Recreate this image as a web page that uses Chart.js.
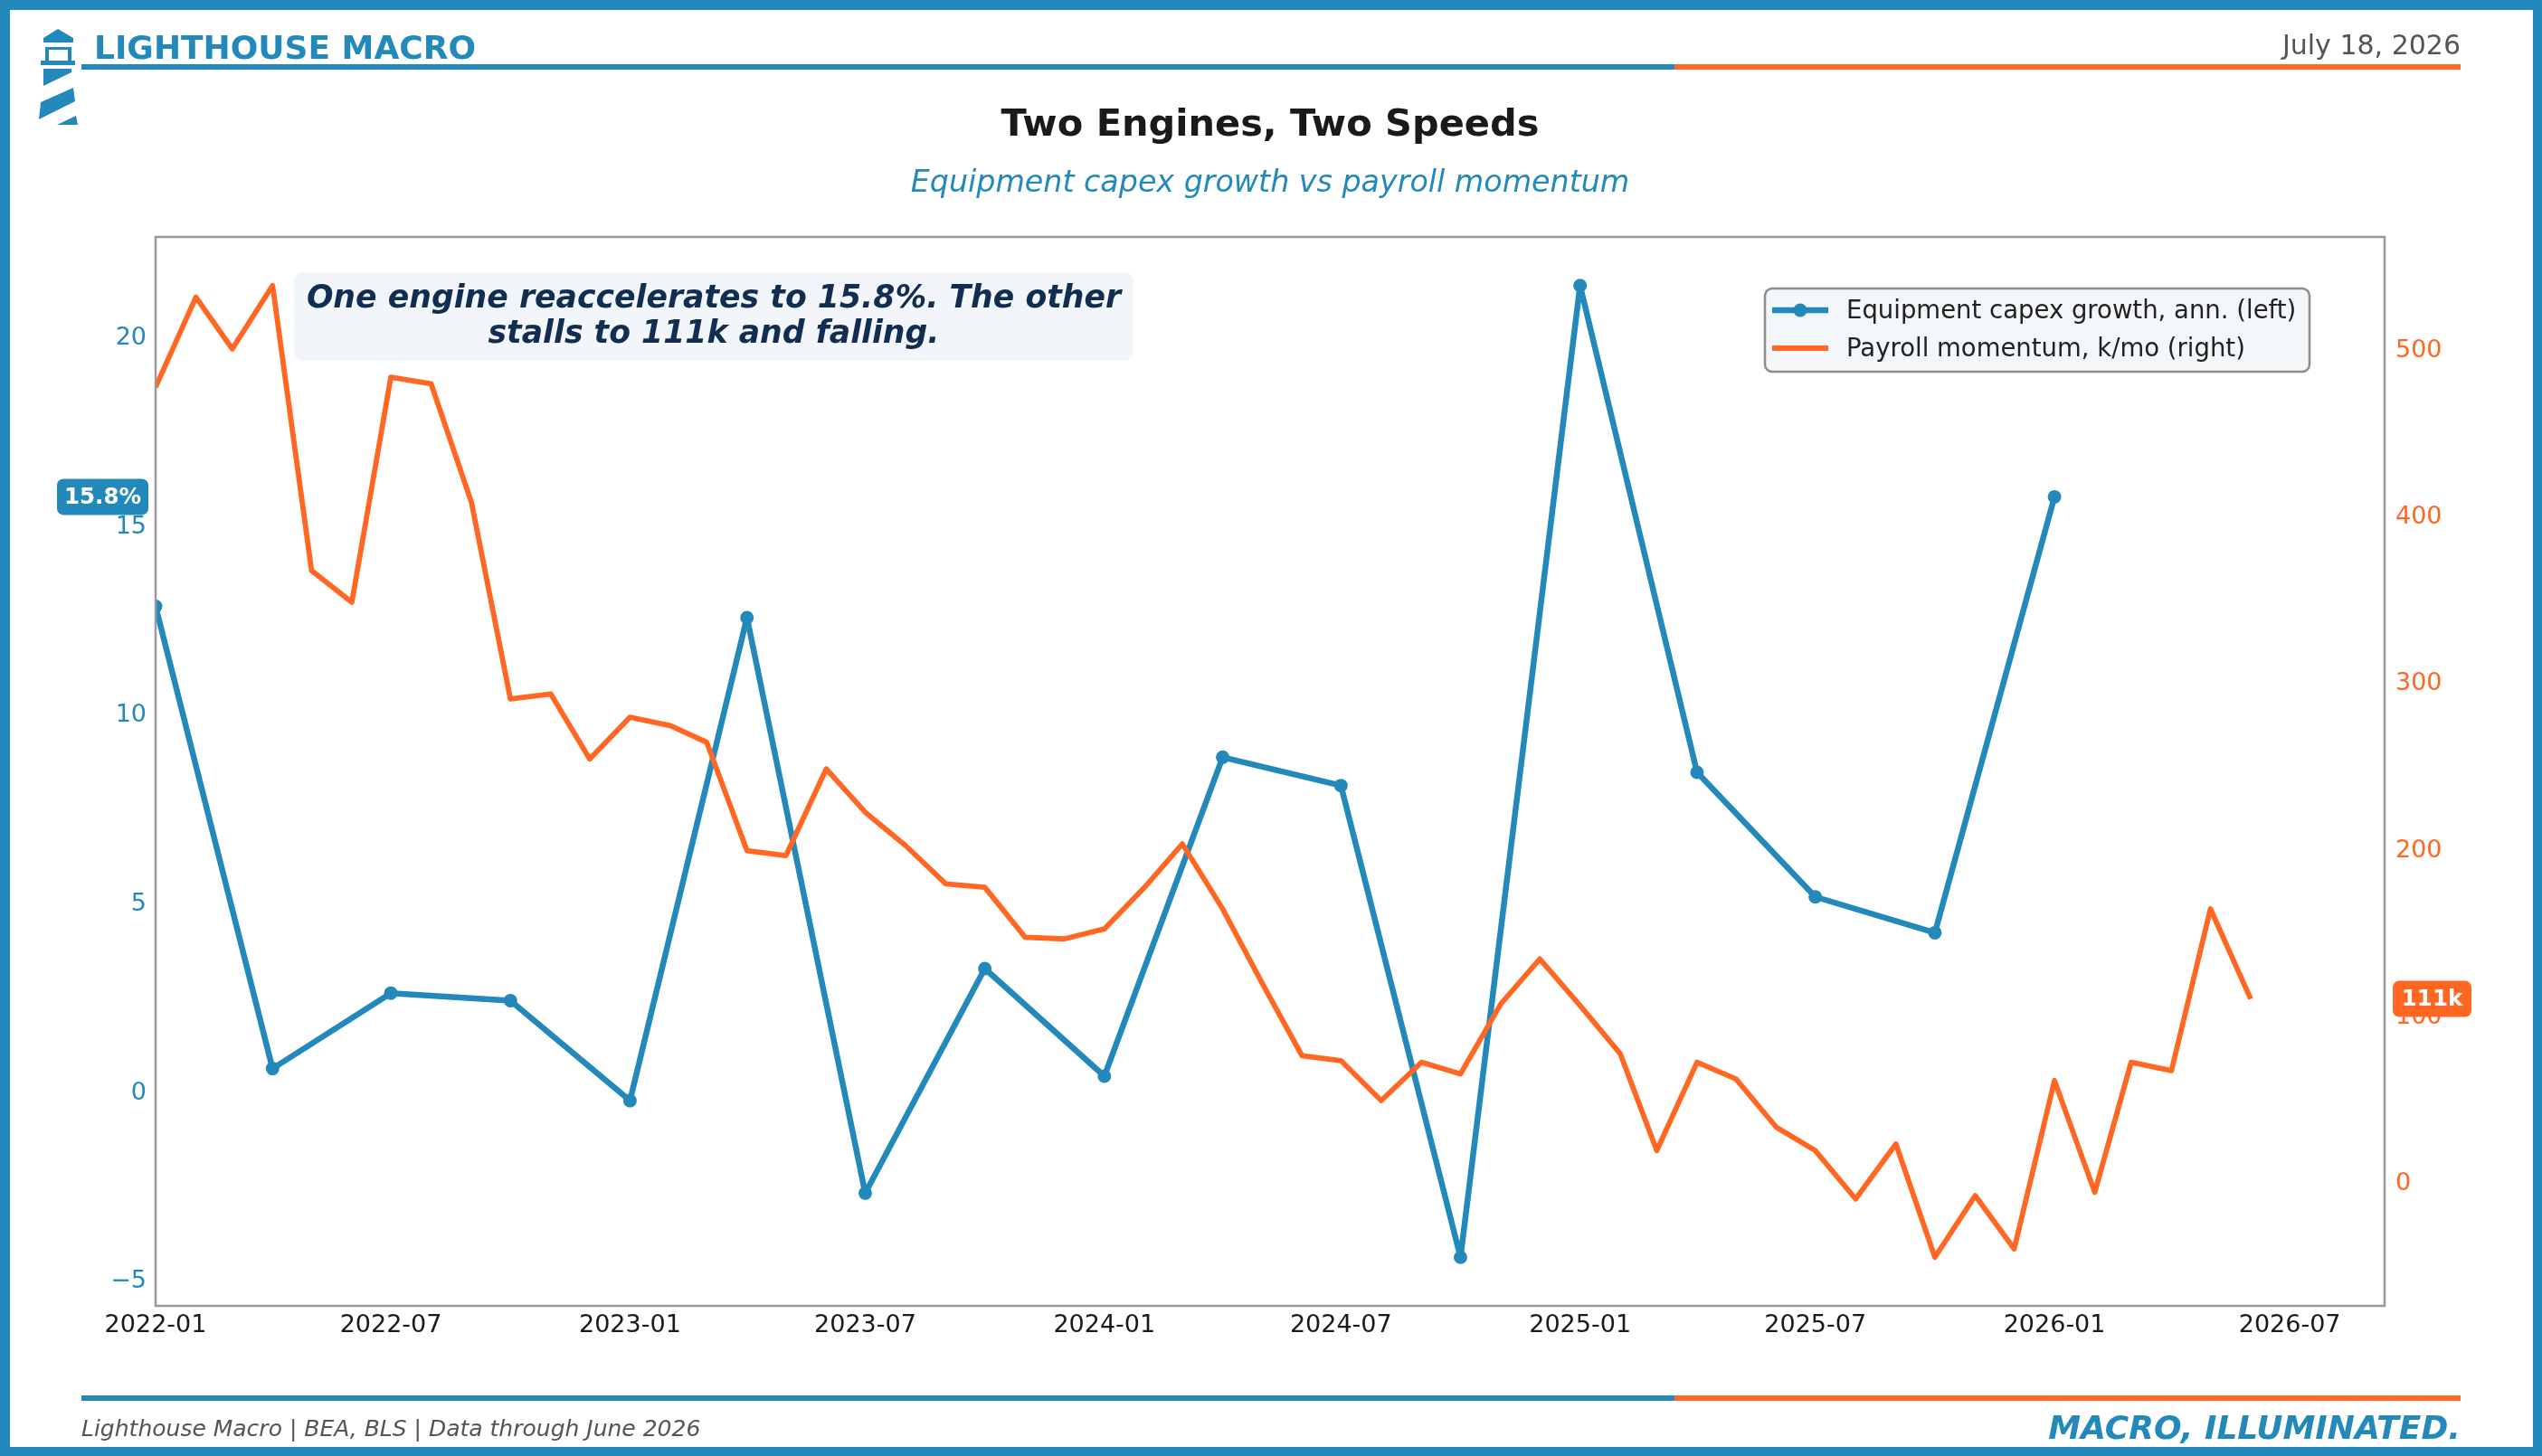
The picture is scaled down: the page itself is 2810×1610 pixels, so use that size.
<!DOCTYPE html>
<html>
<head>
<meta charset="utf-8">
<script src="https://cdn.jsdelivr.net/npm/chart.js@4.4.1/dist/chart.umd.min.js"></script>
<style>
  html, body { margin: 0; padding: 0; background: #fff; overflow: hidden; }
  canvas { display: block; }
</style>
</head>
<body>
<canvas id="c" width="2810" height="1610" style="width:2810px;height:1610px"></canvas>
<script>
// ---------------- DATA ----------------
const payrollMonths = [
  '2022-01','2022-02','2022-03','2022-04','2022-05','2022-06','2022-07','2022-08','2022-09','2022-10','2022-11','2022-12',
  '2023-01','2023-02','2023-03','2023-04','2023-05','2023-06','2023-07','2023-08','2023-09','2023-10','2023-11','2023-12',
  '2024-01','2024-02','2024-03','2024-04','2024-05','2024-06','2024-07','2024-08','2024-09','2024-10','2024-11','2024-12',
  '2025-01','2025-02','2025-03','2025-04','2025-05','2025-06','2025-07','2025-08','2025-09','2025-10','2025-11','2025-12',
  '2026-01','2026-02','2026-03','2026-04','2026-05','2026-06'
];
const payrollValues = [
  478, 532, 501, 539, 368, 349, 484, 480, 409, 291, 294, 255,
  280, 275, 265, 200, 197, 249, 223, 203, 180, 178, 148, 147,
  153, 178, 204, 165, 121, 77, 74, 50, 73, 66, 108, 135,
  107, 78, 20, 73, 63, 34, 20, -9, 24, -44, -7, -39,
  62, -5, 73, 68, 165, 111
];
const capexQuarters = [
  '2022-01','2022-04','2022-07','2022-10',
  '2023-01','2023-04','2023-07','2023-10',
  '2024-01','2024-04','2024-07','2024-10',
  '2025-01','2025-04','2025-07','2025-10',
  '2026-01'
];
const capexValues = [
  12.9, 0.65, 2.65, 2.45,
  -0.2, 12.6, -2.65, 3.3,
  0.45, 8.9, 8.15, -4.35,
  21.4, 8.5, 5.2, 4.25,
  15.8
];
const xTickLabels = ['2022-01','2022-07','2023-01','2023-07','2024-01','2024-07','2025-01','2025-07','2026-01','2026-07'];
const leftTicks = [-5, 0, 5, 10, 15, 20];
const rightTicks = [0, 100, 200, 300, 400, 500];
const seriesLabels = ['Equipment capex growth, ann. (left)', 'Payroll momentum, k/mo (right)'];

// ---------------- STYLE ----------------
const W = 2810, H = 1610;
const BLUE = '#2389BB';
const ORANGE = '#FF6723';
const FONT = '"DejaVu Sans", "Liberation Sans", sans-serif';

function dayIndex(s) {
  const [y, m] = s.split('-').map(Number);
  return (Date.UTC(y, m - 1, 1) - Date.UTC(2022, 0, 1)) / 864e5;
}
function limits(vals) {
  const mn = Math.min(...vals), mx = Math.max(...vals), r = mx - mn;
  return [mn - 0.05 * r, mx + 0.05 * r];
}
const [lMin, lMax] = limits(capexValues);
const [rMin, rMax] = limits(payrollValues);
const X_MIN = dayIndex(xTickLabels[0]);
const X_MAX = dayIndex(payrollMonths[payrollMonths.length - 1]) + 103;

function minusFmt(v) { return v < 0 ? '\u2212' + Math.abs(v) : String(v); }

function rr(ctx, x, y, w, h, r) {
  ctx.beginPath();
  ctx.moveTo(x + r, y);
  ctx.arcTo(x + w, y, x + w, y + h, r);
  ctx.arcTo(x + w, y + h, x, y + h, r);
  ctx.arcTo(x, y + h, x, y, r);
  ctx.arcTo(x, y, x + w, y, r);
  ctx.closePath();
}

const decor = {
  id: 'decor',
  beforeDraw(chart) {
    const ctx = chart.ctx;
    ctx.save();
    ctx.fillStyle = '#fff';
    ctx.fillRect(0, 0, W, H);
    // outer border
    ctx.fillStyle = BLUE;
    ctx.fillRect(0, 0, W, 11);
    ctx.fillRect(0, H - 10, W, 10);
    ctx.fillRect(0, 0, 11, H);
    ctx.fillRect(W - 10, 0, 10, H);
    // header / footer rules
    ctx.fillStyle = BLUE;
    ctx.fillRect(90, 71, 1761, 6);
    ctx.fillRect(90, 1543, 1761, 6);
    ctx.fillStyle = ORANGE;
    ctx.fillRect(1851, 71, 869, 6);
    ctx.fillRect(1851, 1543, 869, 6);

    // lighthouse logo
    ctx.fillStyle = BLUE;
    ctx.beginPath();
    ctx.moveTo(64, 32); ctx.lineTo(81, 42); ctx.lineTo(81, 47); ctx.lineTo(48, 47); ctx.lineTo(48, 42);
    ctx.closePath(); ctx.fill();
    ctx.fillRect(50, 52, 4, 16);
    ctx.fillRect(75, 52, 4, 16);
    ctx.fillRect(50, 52, 29, 3);
    ctx.fillRect(45, 67, 38, 5);
    ctx.beginPath();
    ctx.moveTo(48, 76); ctx.lineTo(79, 76); ctx.lineTo(79, 80); ctx.lineTo(48, 95); ctx.closePath(); ctx.fill();
    ctx.beginPath();
    ctx.moveTo(45, 113); ctx.lineTo(81, 97); ctx.lineTo(83, 112); ctx.lineTo(43, 132); ctx.closePath(); ctx.fill();
    ctx.beginPath();
    ctx.moveTo(63, 138); ctx.lineTo(84, 128); ctx.lineTo(86, 138); ctx.closePath(); ctx.fill();

    ctx.textBaseline = 'alphabetic';
    ctx.textAlign = 'left';
    ctx.fillStyle = BLUE;
    ctx.font = 'bold 36px ' + FONT;
    ctx.fillText('LIGHTHOUSE MACRO', 104, 65);

    ctx.textAlign = 'right';
    ctx.fillStyle = '#555555';
    ctx.font = '30px ' + FONT;
    ctx.fillText('July 18, 2026', 2720, 60);

    ctx.textAlign = 'center';
    ctx.fillStyle = '#1a1a1a';
    ctx.font = 'bold 41.5px ' + FONT;
    ctx.fillText('Two Engines, Two Speeds', 1404, 150);

    ctx.fillStyle = BLUE;
    ctx.font = 'italic 33.3px ' + FONT;
    ctx.fillText('Equipment capex growth vs payroll momentum', 1404, 212);

    // footer
    ctx.textAlign = 'left';
    ctx.fillStyle = '#555555';
    ctx.font = 'italic 25px ' + FONT;
    ctx.fillText('Lighthouse Macro | BEA, BLS | Data through June 2026', 90, 1588);

    ctx.textAlign = 'right';
    ctx.fillStyle = BLUE;
    ctx.font = 'italic bold 36px ' + FONT;
    ctx.fillText('MACRO, ILLUMINATED.', 2720, 1591);
    ctx.restore();
  },
  afterDatasetsDraw(chart) {
    const ctx = chart.ctx;
    const a = chart.chartArea;
    ctx.save();
    // frame
    ctx.strokeStyle = '#9a9a9a';
    ctx.lineWidth = 2.5;
    ctx.strokeRect(a.left, a.top, a.right - a.left, a.bottom - a.top);

    // annotation box
    rr(ctx, 325, 301, 928, 98, 10);
    ctx.fillStyle = '#F2F6FA';
    ctx.fill();
    ctx.fillStyle = '#112E51';
    ctx.font = 'italic bold 34.7px ' + FONT;
    ctx.textAlign = 'center';
    ctx.textBaseline = 'alphabetic';
    ctx.fillText('One engine reaccelerates to 15.8%. The other', 789, 340);
    ctx.fillText('stalls to 111k and falling.', 789, 379);

    // legend
    rr(ctx, 1951, 319, 602, 92, 8);
    ctx.fillStyle = '#F4F7FA';
    ctx.fill();
    ctx.strokeStyle = '#8c8c8c';
    ctx.lineWidth = 2.5;
    ctx.stroke();
    const ds = chart.data.datasets;
    const rows = [{ d: ds[1], y: 343 }, { d: ds[0], y: 385 }];
    rows.forEach(r => {
      ctx.strokeStyle = r.d.borderColor;
      ctx.lineWidth = r.d.borderWidth;
      ctx.lineCap = 'butt';
      ctx.beginPath(); ctx.moveTo(1959, r.y); ctx.lineTo(2021, r.y); ctx.stroke();
      if (r.d.pointRadius > 0) {
        ctx.fillStyle = r.d.borderColor;
        ctx.beginPath(); ctx.arc(1990, r.y, r.d.pointRadius, 0, Math.PI * 2); ctx.fill();
      }
      ctx.fillStyle = '#222';
      ctx.font = '27.5px ' + FONT;
      ctx.textAlign = 'left';
      ctx.fillText(r.d.label, 2041, r.y + 9);
    });

    // end-value badges
    const yL = chart.scales.yL, yR = chart.scales.yR;
    const lastC = capexValues[capexValues.length - 1];
    const lastP = payrollValues[payrollValues.length - 1];
    const cy = yL.getPixelForValue(lastC);
    rr(ctx, 63, cy - 20, 101, 40, 7);
    ctx.fillStyle = BLUE; ctx.fill();
    ctx.fillStyle = '#fff';
    ctx.font = 'bold 24.5px ' + FONT;
    ctx.textAlign = 'center';
    ctx.textBaseline = 'middle';
    ctx.fillText(lastC.toFixed(1) + '%', 113.5, cy + 1);

    const py = yR.getPixelForValue(lastP);
    rr(ctx, 2645, py - 20, 87, 40, 7);
    ctx.fillStyle = ORANGE; ctx.fill();
    ctx.fillStyle = '#fff';
    ctx.fillText(Math.round(lastP) + 'k', 2688.5, py + 1);
    ctx.restore();
  }
};

const tickFont = { family: FONT, size: 27 };

new Chart(document.getElementById('c'), {
  type: 'line',
  data: {
    datasets: [
      {
        label: seriesLabels[1],
        data: payrollMonths.map((m, i) => ({ x: dayIndex(m), y: payrollValues[i] })),
        yAxisID: 'yR',
        borderColor: ORANGE,
        backgroundColor: ORANGE,
        borderWidth: 5.8,
        borderJoinStyle: 'round',
        pointRadius: 0,
        tension: 0,
        clip: 0,
        order: 0
      },
      {
        label: seriesLabels[0],
        data: capexQuarters.map((m, i) => ({ x: dayIndex(m), y: capexValues[i] })),
        yAxisID: 'yL',
        borderColor: BLUE,
        backgroundColor: BLUE,
        borderWidth: 6.5,
        borderJoinStyle: 'round',
        pointRadius: 7.5,
        pointBorderWidth: 0,
        pointBackgroundColor: BLUE,
        tension: 0,
        clip: 0,
        order: 1
      }
    ]
  },
  options: {
    responsive: false,
    animation: false,
    devicePixelRatio: 1,
    events: [],
    layout: { padding: { top: 262, left: 0, right: 0, bottom: 0 } },
    plugins: { legend: { display: false }, tooltip: { enabled: false }, title: { display: false } },
    scales: {
      x: {
        type: 'linear',
        position: 'bottom',
        min: X_MIN,
        max: X_MAX,
        grid: { display: false, drawTicks: false },
        border: { display: false },
        afterBuildTicks: s => { s.ticks = xTickLabels.map(l => ({ value: dayIndex(l) })); },
        afterFit: s => { s.height = 166; },
        ticks: {
          autoSkip: false, maxRotation: 0, minRotation: 0, padding: 6,
          color: '#1a1a1a', font: tickFont,
          callback: (v, i) => xTickLabels[i]
        }
      },
      yL: {
        type: 'linear',
        position: 'left',
        min: lMin,
        max: lMax,
        grid: { display: false, drawTicks: false },
        border: { display: false },
        afterBuildTicks: s => { s.ticks = leftTicks.map(v => ({ value: v })); },
        afterFit: s => { s.width = 172; },
        ticks: { padding: 10, color: BLUE, font: tickFont, callback: v => minusFmt(v) }
      },
      yR: {
        type: 'linear',
        position: 'right',
        min: rMin,
        max: rMax,
        grid: { display: false, drawTicks: false },
        border: { display: false },
        afterBuildTicks: s => { s.ticks = rightTicks.map(v => ({ value: v })); },
        afterFit: s => { s.width = 174; },
        ticks: { padding: 12, color: ORANGE, font: tickFont, callback: v => minusFmt(v) }
      }
    }
  },
  plugins: [decor]
});
</script>
</body>
</html>
